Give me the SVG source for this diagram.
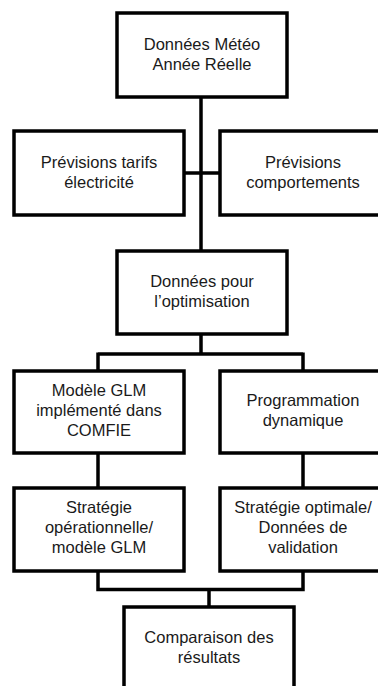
<svg xmlns="http://www.w3.org/2000/svg" width="378" height="686" viewBox="0 0 378 686">
<style>
.box{fill:#fff;stroke:#000;stroke-width:3.5}
.ln{fill:none;stroke:#000;stroke-width:3.5}
text{font-family:"Liberation Sans",Arial,sans-serif;font-size:16.5px;fill:#1a1a1a;text-anchor:middle}
</style>
<rect width="378" height="686" fill="#fff"/>
<g id="connectors">
<path class="ln" d="M201,97 V251"/>
<path class="ln" d="M184,173 H220"/>
<path class="ln" d="M201,334 V354 M98,354 H303 M98,352.5 V371 M303,352.5 V371"/>
<path class="ln" d="M98,453 V488 M303,453 V488"/>
<path class="ln" d="M98,571 V589.5 H303 V571 M209,588 V607"/>
</g>
<g id="n1"><rect class="box" x="117" y="13" width="170" height="84"/><text x="202" y="50">Données Météo</text><text x="202" y="70">Année Réelle</text></g>
<g id="n2"><rect class="box" x="14" y="131" width="170" height="84"/><text x="99" y="168">Prévisions tarifs</text><text x="99" y="188">électricité</text></g>
<g id="n3"><rect class="box" x="220" y="131" width="170" height="84"/><text x="303" y="168">Prévisions</text><text x="303" y="188">comportements</text></g>
<g id="n4"><rect class="box" x="117" y="251" width="170" height="83"/><text x="202" y="287">Données pour</text><text x="202" y="307">l’optimisation</text></g>
<g id="n5"><rect class="box" x="14" y="371" width="170" height="82"/><text x="99" y="396">Modèle GLM</text><text x="99" y="416">implémenté dans</text><text x="99" y="436">COMFIE</text></g>
<g id="n6"><rect class="box" x="220" y="371" width="170" height="82"/><text x="303" y="406">Programmation</text><text x="303" y="426">dynamique</text></g>
<g id="n7"><rect class="box" x="14" y="488" width="170" height="83"/><text x="99" y="513">Stratégie</text><text x="99" y="533">opérationnelle/</text><text x="99" y="553">modèle GLM</text></g>
<g id="n8"><rect class="box" x="220" y="488" width="170" height="83"/><text x="303" y="513">Stratégie optimale/</text><text x="303" y="533">Données de</text><text x="303" y="553">validation</text></g>
<g id="n9"><rect class="box" x="124" y="607" width="170" height="90"/><text x="209" y="643">Comparaison des</text><text x="209" y="663">résultats</text></g>
</svg>
